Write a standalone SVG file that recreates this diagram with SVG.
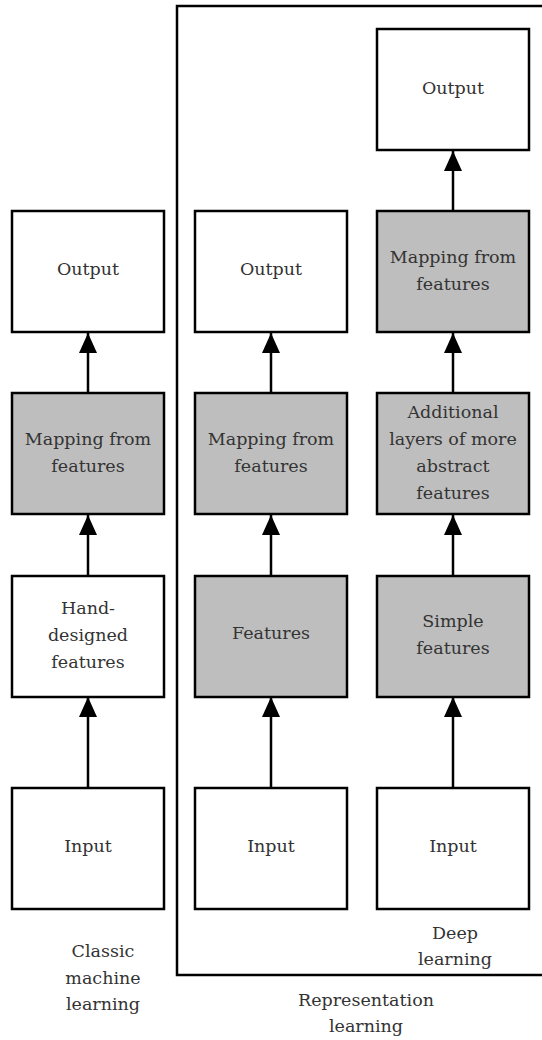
<svg xmlns="http://www.w3.org/2000/svg" width="542" height="1040" viewBox="0 0 542 1040">
<defs>
<marker id="ah" viewBox="0 0 20 18" refX="20" refY="9" markerWidth="20" markerHeight="18" markerUnits="userSpaceOnUse" orient="auto">
<path d="M0,0 L20,9 L0,18 Z" fill="#000"/>
</marker>
<style>
.box{fill:#fff;stroke:#000;stroke-width:2.5}
.g{fill:#bebebe;stroke:#000;stroke-width:2.5}
.t{font-family:'DejaVu Serif',serif;font-size:17.5px;fill:#333;text-anchor:middle}
.c{stroke:#000;stroke-width:2.5;fill:none;marker-end:url(#ah)}
</style>
</defs>
<rect width="542" height="1040" fill="#fff"/>
<path d="M545,6 H177 V975 H545" fill="none" stroke="#000" stroke-width="2.5"/>
<g id="connectors">
<line class="c" x1="88" y1="393" x2="88" y2="333"/>
<line class="c" x1="88" y1="576" x2="88" y2="515"/>
<line class="c" x1="88" y1="788" x2="88" y2="697"/>
<line class="c" x1="271" y1="393" x2="271" y2="333"/>
<line class="c" x1="271" y1="576" x2="271" y2="515"/>
<line class="c" x1="271" y1="788" x2="271" y2="697"/>
<line class="c" x1="453" y1="211" x2="453" y2="151"/>
<line class="c" x1="453" y1="393" x2="453" y2="333"/>
<line class="c" x1="453" y1="576" x2="453" y2="515"/>
<line class="c" x1="453" y1="788" x2="453" y2="697"/>
</g>
<g id="c1-output"><rect class="box" x="12" y="211" width="152" height="121"/><text class="t" x="88" y="275">Output</text></g>
<g id="c1-mapping"><rect class="g" x="12" y="393" width="152" height="121"/><text class="t" x="88" y="445">Mapping from</text><text class="t" x="88" y="472">features</text></g>
<g id="c1-hand"><rect class="box" x="12" y="576" width="152" height="121"/><text class="t" x="88" y="614">Hand-</text><text class="t" x="88" y="641">designed</text><text class="t" x="88" y="668">features</text></g>
<g id="c1-input"><rect class="box" x="12" y="788" width="152" height="121"/><text class="t" x="88" y="852">Input</text></g>
<g id="c2-output"><rect class="box" x="195" y="211" width="152" height="121"/><text class="t" x="271" y="275">Output</text></g>
<g id="c2-mapping"><rect class="g" x="195" y="393" width="152" height="121"/><text class="t" x="271" y="445">Mapping from</text><text class="t" x="271" y="472">features</text></g>
<g id="c2-features"><rect class="g" x="195" y="576" width="152" height="121"/><text class="t" x="271" y="639">Features</text></g>
<g id="c2-input"><rect class="box" x="195" y="788" width="152" height="121"/><text class="t" x="271" y="852">Input</text></g>
<g id="c3-output"><rect class="box" x="377" y="29" width="152" height="121"/><text class="t" x="453" y="94">Output</text></g>
<g id="c3-mapping"><rect class="g" x="377" y="211" width="152" height="121"/><text class="t" x="453" y="263">Mapping from</text><text class="t" x="453" y="290">features</text></g>
<g id="c3-additional"><rect class="g" x="377" y="393" width="152" height="121"/><text class="t" x="453" y="418">Additional</text><text class="t" x="453" y="445">layers of more</text><text class="t" x="453" y="472">abstract</text><text class="t" x="453" y="499">features</text></g>
<g id="c3-simple"><rect class="g" x="377" y="576" width="152" height="121"/><text class="t" x="453" y="627">Simple</text><text class="t" x="453" y="654">features</text></g>
<g id="c3-input"><rect class="box" x="377" y="788" width="152" height="121"/><text class="t" x="453" y="852">Input</text></g>
<g id="labels">
<text class="t" x="103" y="957">Classic</text><text class="t" x="103" y="984">machine</text><text class="t" x="103" y="1010">learning</text>
<text class="t" x="455" y="939">Deep</text><text class="t" x="455" y="965">learning</text>
<text class="t" x="366" y="1006">Representation</text><text class="t" x="366" y="1032">learning</text>
</g>
</svg>
